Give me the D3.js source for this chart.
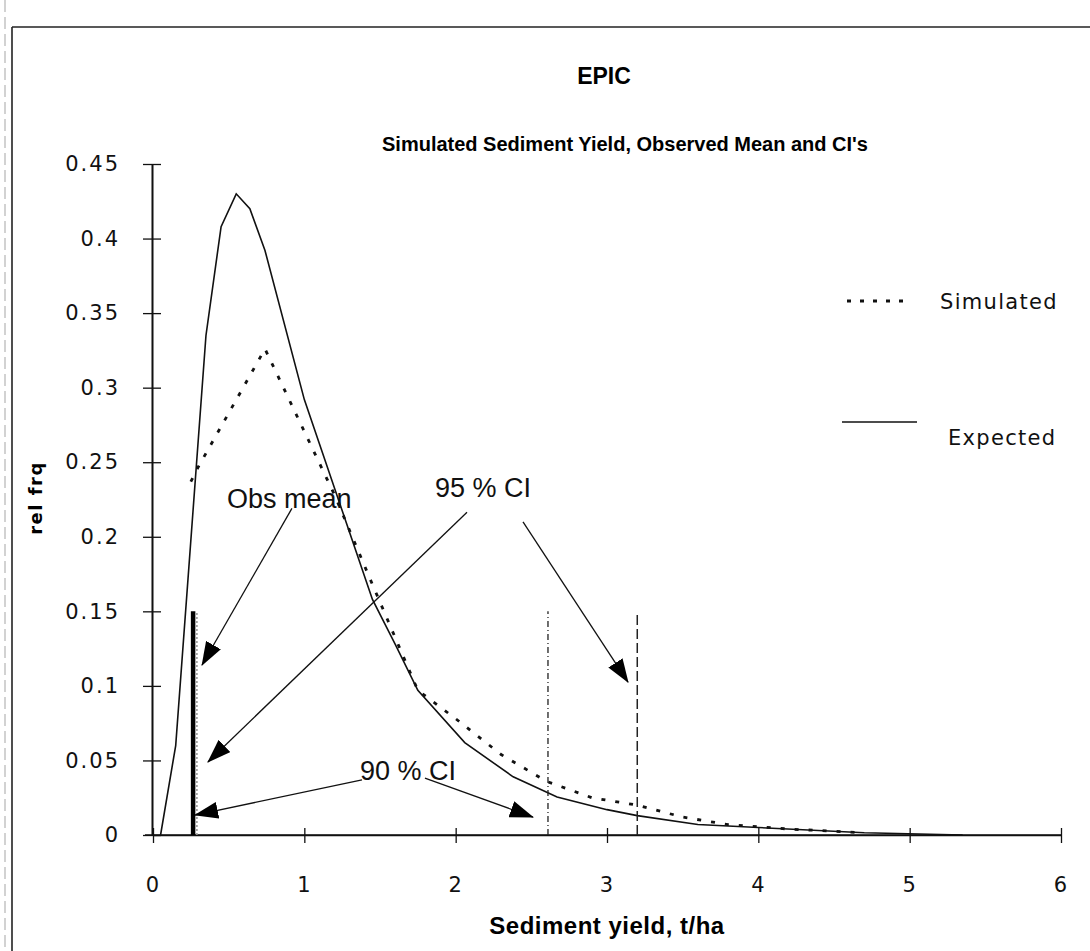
<!DOCTYPE html>
<html>
<head>
<meta charset="utf-8">
<script src="https://cdn.jsdelivr.net/npm/d3@7"></script>
<style>
  html, body { margin: 0; padding: 0; background: #fff; }
  svg { display: block; }
  .tick text { font-family: "DejaVu Sans", sans-serif; }
</style>
</head>
<body>
<svg id="chart" width="1090" height="951"></svg>
<script>
// Relative frequency of sediment yield (t/ha): simulated vs expected
const simX = [0.25, 0.30, 0.74, 1.20, 1.45, 1.75, 2.00, 2.30, 2.60, 2.90, 3.20, 3.50, 3.80, 4.20, 4.70];
const simY = [0.237, 0.247, 0.326, 0.228, 0.168, 0.097, 0.078, 0.054, 0.036, 0.025, 0.020, 0.012, 0.007, 0.004, 0.0015];

const expX = [0.05, 0.15, 0.35, 0.45, 0.55, 0.64, 0.74, 1.00, 1.45, 1.60, 1.75, 2.06, 2.38, 2.67, 3.00, 3.20, 3.60, 4.00, 4.70, 5.35];
const expY = [0.000, 0.060, 0.335, 0.408, 0.430, 0.420, 0.392, 0.292, 0.158, 0.128, 0.097, 0.062, 0.039, 0.0255, 0.017, 0.013, 0.007, 0.005, 0.0015, 0.000];

// Observed mean and confidence limits (t/ha)
const obsMean = 0.265;
const ci95 = [0.26, 3.20];
const ci90 = [0.29, 2.61];
const markerTop = 0.15;

const xTicks = [0, 1, 2, 3, 4, 5, 6];
const yTicks = [0, 0.05, 0.1, 0.15, 0.2, 0.25, 0.3, 0.35, 0.4, 0.45];
const yTickLabels = ["0", "0.05", "0.1", "0.15", "0.2", "0.25", "0.3", "0.35", "0.4", "0.45"];

const seriesNames = ["Simulated", "Expected"];

// Callouts: label text with its anchor, and arrows (data units)
const callouts = [
  { text: "Obs mean", at: [0.489, 0.219],
    arrows: [[[0.918, 0.219], [0.324, 0.114]]] },
  { text: "95 % CI", at: [1.863, 0.227],
    arrows: [[[2.075, 0.2165], [0.363, 0.049]], [[2.445, 0.210], [3.139, 0.1025]]] },
  { text: "90 % CI", at: [1.368, 0.0369],
    arrows: [[[1.381, 0.0369], [0.278, 0.0134]], [[1.797, 0.0382], [2.511, 0.012]]] }
];

const svg = d3.select("#chart");

const x = d3.scaleLinear().domain([0, 6]).range([153, 1061]);
const y = d3.scaleLinear().domain([0, 0.45]).range([835, 164]);

// page frame
svg.append("line").attr("x1", 5).attr("x2", 5).attr("y1", 0).attr("y2", 951)
  .attr("stroke", "#b5b5b5").attr("stroke-width", 1.2).attr("stroke-dasharray", "12,5");
svg.append("line").attr("x1", 12).attr("x2", 12).attr("y1", 27).attr("y2", 951)
  .attr("stroke", "#222").attr("stroke-width", 1.6);
svg.append("line").attr("x1", 12).attr("x2", 1090).attr("y1", 27).attr("y2", 27)
  .attr("stroke", "#222").attr("stroke-width", 1.6);

// titles
svg.append("text").attr("x", 604).attr("y", 84).attr("text-anchor", "middle")
  .attr("font-family", "Liberation Sans, Arial, sans-serif").attr("font-weight", "bold")
  .attr("font-size", 23).text("EPIC");
svg.append("text").attr("x", 625).attr("y", 151).attr("text-anchor", "middle")
  .attr("font-family", "Liberation Sans, Arial, sans-serif").attr("font-weight", "bold")
  .attr("font-size", 20).text("Simulated Sediment Yield, Observed Mean and CI's");

// axes
const gx = svg.append("g").attr("transform", `translate(0,${y(0)})`);
gx.call(d3.axisBottom(x).tickValues(xTicks).tickSizeInner(8).tickSizeOuter(0).tickPadding(34)
  .tickFormat(d3.format("d")));
gx.append("g").call(d3.axisTop(x).tickValues(xTicks).tickSizeInner(7).tickSizeOuter(0).tickFormat(""));
gx.select(".domain").attr("d", `M${x(0) - 8},0H${x(6)}`);

const gy = svg.append("g").attr("transform", `translate(${x(0) - 1},0)`);
gy.call(d3.axisLeft(y).tickValues(yTicks).tickSizeInner(9).tickSizeOuter(0).tickPadding(23)
  .tickFormat((d, i) => yTickLabels[i]));
gy.append("g").call(d3.axisRight(y).tickValues(yTicks).tickSizeInner(9).tickSizeOuter(0).tickFormat(""));

svg.selectAll(".domain").attr("stroke", "#111").attr("stroke-width", 1.6);
svg.selectAll(".tick line").attr("stroke", "#111").attr("stroke-width", 1.3);
svg.selectAll(".tick text").attr("font-size", 21).attr("fill", "#111").attr("letter-spacing", "2px");

// axis titles
svg.append("text").attr("x", 607).attr("y", 934).attr("text-anchor", "middle")
  .attr("font-family", "Liberation Sans, Arial, sans-serif").attr("font-weight", "bold")
  .attr("font-size", 24).attr("letter-spacing", "0.5px").text("Sediment yield, t/ha");
svg.append("text").attr("transform", "translate(42,498) rotate(-90)").attr("text-anchor", "middle")
  .attr("font-family", "DejaVu Sans, sans-serif").attr("font-weight", "bold")
  .attr("font-size", 18).attr("letter-spacing", "1.5px").text("rel frq");

// curves
const line = d3.line().x(d => x(d[0])).y(d => y(d[1]));
const simData = simX.map((v, i) => [v, simY[i]]);
const expData = expX.map((v, i) => [v, expY[i]]);

svg.append("path").datum(expData).attr("d", line)
  .attr("fill", "none").attr("stroke", "#111").attr("stroke-width", 1.6);
svg.append("path").datum(simData).attr("d", line)
  .attr("fill", "none").attr("stroke", "#111").attr("stroke-width", 2.8)
  .attr("stroke-dasharray", "4,10");

// observed mean and confidence limits
const vline = (v, dash, w, color) => svg.append("line")
  .attr("x1", x(v)).attr("x2", x(v)).attr("y1", y(0)).attr("y2", y(markerTop))
  .attr("stroke", color).attr("stroke-width", w).attr("stroke-dasharray", dash);
vline(ci95[0], "10,4", 1.5, "#111");
vline(ci90[0], "2,2", 1.6, "#9a9a9a");
vline(obsMean, null, 4.5, "#000");
vline(ci90[1], "6,3,1,3", 1.3, "#222");
vline(ci95[1], "10,4", 1.5, "#222");

// callouts
svg.append("defs").append("marker").attr("id", "head")
  .attr("markerUnits", "userSpaceOnUse").attr("markerWidth", 24).attr("markerHeight", 17)
  .attr("viewBox", "0 0 24 17").attr("refX", 23).attr("refY", 8.5).attr("orient", "auto")
  .append("path").attr("d", "M0,0L24,8.5L0,17Z").attr("fill", "#000");

callouts.forEach(c => {
  c.arrows.forEach(a => {
    svg.append("line").attr("x1", x(a[0][0])).attr("y1", y(a[0][1]))
      .attr("x2", x(a[1][0])).attr("y2", y(a[1][1]))
      .attr("stroke", "#111").attr("stroke-width", 1.3).attr("marker-end", "url(#head)");
  });
  svg.append("text").attr("x", x(c.at[0])).attr("y", y(c.at[1]))
    .attr("font-family", "Liberation Sans, Arial, sans-serif").attr("font-size", 27)
    .attr("fill", "#111").text(c.text);
});

// legend
const legend = [
  { name: seriesNames[0], dash: "4,9", w: 2.8, ly: 301, tx: 940, ty: 309, x1: 847, x2: 912 },
  { name: seriesNames[1], dash: null, w: 1.6, ly: 422, tx: 948, ty: 445, x1: 842, x2: 917 }
];
legend.forEach(l => {
  svg.append("line").attr("x1", l.x1).attr("x2", l.x2).attr("y1", l.ly).attr("y2", l.ly)
    .attr("stroke", "#111").attr("stroke-width", l.w).attr("stroke-dasharray", l.dash);
  svg.append("text").attr("x", l.tx).attr("y", l.ty)
    .attr("font-family", "DejaVu Sans, sans-serif").attr("font-size", 21)
    .attr("letter-spacing", "1.3px").attr("fill", "#111").text(l.name);
});
</script>
</body>
</html>
